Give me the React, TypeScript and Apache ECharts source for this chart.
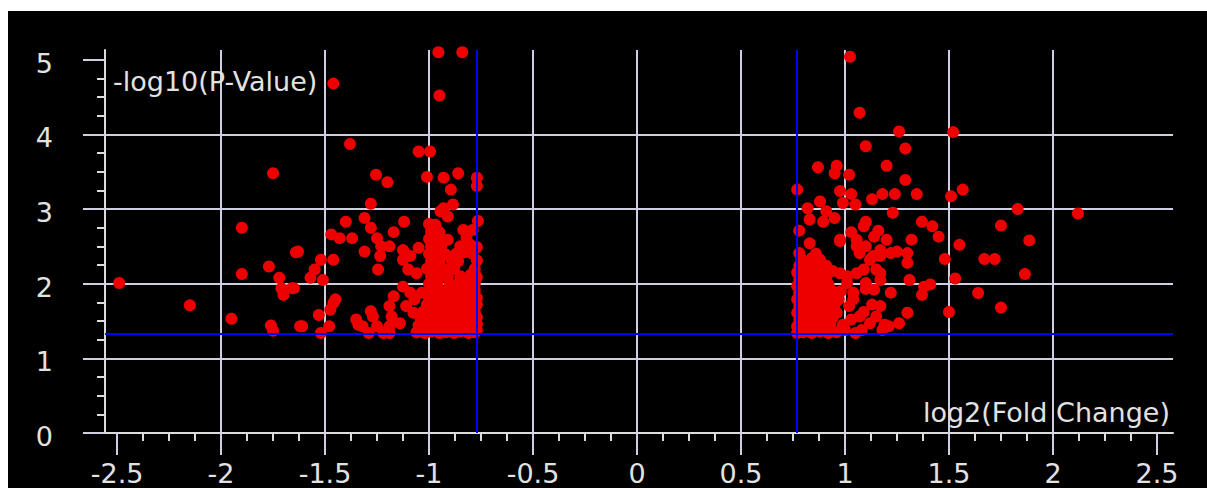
import React, { useEffect, useRef } from "react";
import * as echarts from "echarts";

// Axis layout values
const xTicks = [-2.5, -2, -1.5, -1, -0.5, 0, 0.5, 1, 1.5, 2, 2.5];
const yTicks = [0, 1, 2, 3, 4, 5];
const xRange = [-2.558, 2.577];
const yRange = [0, 5.13];

// Significance thresholds
const foldChangeCut = 0.766;
const pValueCut = 1.327;

// [log2(Fold Change), -log10(P-Value)]
const downRegulated: [number, number][] = [
  [-2.49, 2.01], [-2.15, 1.71], [-1.95, 1.53], [-1.9, 2.75], [-1.9, 2.13],
  [-1.75, 3.48], [-1.77, 2.23], [-1.64, 2.42], [-1.72, 2.08], [-1.71, 1.94],
  [-1.7, 1.85], [-1.66, 1.94], [-1.76, 1.44], [-1.75, 1.37], [-1.62, 1.43],
  [-1.46, 4.68], [-0.955, 5.1], [-0.84, 5.1], [-0.95, 4.52], [-1.38, 3.87],
  [-1.05, 3.77], [-0.995, 3.77], [-1.255, 3.46], [-1.2, 3.36], [-1.01, 3.43],
  [-0.93, 3.42], [-0.895, 3.26], [-0.86, 3.48], [-0.77, 3.42], [-0.77, 3.31],
  [-1.28, 3.07], [-0.93, 3.01], [-0.885, 3.06], [-0.91, 2.9], [-0.945, 2.97],
  [-1.4, 2.83], [-1.31, 2.88], [-1.28, 2.75], [-1.25, 2.61], [-1.23, 2.5],
  [-1.235, 2.37], [-1.245, 2.19], [-1.12, 2.83], [-1.17, 2.69], [-1.47, 2.66],
  [-1.43, 2.61], [-1.37, 2.61], [-1.63, 2.43], [-1.31, 2.43], [-1.19, 2.5],
  [-1.125, 2.45], [-1.09, 2.37], [-1.05, 2.48], [-1.52, 2.32], [-1.46, 2.32],
  [-1.55, 2.19], [-1.57, 2.08], [-1.51, 2.05], [-1.65, 1.94], [-1.46, 1.74],
  [-1.475, 1.65], [-1.53, 1.58], [-1.61, 1.43], [-1.48, 1.43], [-1.52, 1.34],
  [-1.35, 1.52], [-1.32, 1.43], [-1.28, 1.63], [-1.29, 1.34], [-1.17, 1.83],
  [-1.125, 1.96], [-0.835, 2.72], [-0.79, 2.72], [-0.765, 2.84], [-1.125, 2.32],
  [-1.1, 2.19], [-1.06, 2.14], [-1.45, 1.79], [-1.34, 1.45], [-1.25, 1.43],
  [-1.22, 1.34], [-1.27, 1.56], [-1.19, 1.43], [-1.19, 1.34], [-1.18, 1.56],
  [-1.19, 1.7], [-1.14, 1.47], [-1.11, 1.7], [-1.075, 1.61], [-1.07, 1.79],
  [-1.035, 1.88], [-1.09, 1.88],
  [-1.06, 1.35], [-1.02, 1.34], [-0.99, 1.36], [-0.95, 1.34], [-0.92, 1.35],
  [-0.88, 1.34], [-0.85, 1.36], [-0.81, 1.34], [-0.78, 1.35], [-0.77, 1.38],
  [-1.05, 1.44], [-1.01, 1.43], [-0.98, 1.45], [-0.94, 1.44], [-0.91, 1.42],
  [-0.87, 1.45], [-0.84, 1.43], [-0.8, 1.44], [-0.77, 1.46],
  [-1.04, 1.53], [-1.0, 1.52], [-0.96, 1.54], [-0.93, 1.53], [-0.89, 1.51],
  [-0.86, 1.54], [-0.82, 1.52], [-0.79, 1.53], [-0.77, 1.55],
  [-1.03, 1.62], [-0.99, 1.63], [-0.95, 1.61], [-0.92, 1.62], [-0.88, 1.64],
  [-0.85, 1.61], [-0.81, 1.63], [-0.78, 1.62],
  [-1.01, 1.72], [-0.97, 1.71], [-0.94, 1.73], [-0.9, 1.72], [-0.87, 1.7],
  [-0.83, 1.73], [-0.8, 1.71], [-0.77, 1.72],
  [-1.0, 1.81], [-0.96, 1.82], [-0.93, 1.8], [-0.89, 1.81], [-0.86, 1.83],
  [-0.82, 1.8], [-0.79, 1.82], [-0.77, 1.81],
  [-0.99, 1.9], [-0.95, 1.91], [-0.92, 1.89], [-0.88, 1.9], [-0.85, 1.92],
  [-0.81, 1.9], [-0.78, 1.91],
  [-1.0, 2.0], [-0.96, 2.01], [-0.9, 1.99], [-0.86, 2.0], [-0.82, 2.02], [-0.78, 2.0],
  [-0.99, 2.1], [-0.94, 2.11], [-0.91, 2.09], [-0.85, 2.1], [-0.8, 2.12], [-0.77, 2.09],
  [-1.01, 2.2], [-0.97, 2.21], [-0.92, 2.19], [-0.88, 2.2], [-0.78, 2.2],
  [-0.99, 2.3], [-0.95, 2.29], [-0.89, 2.31], [-0.86, 2.3], [-0.77, 2.31],
  [-1.0, 2.4], [-0.96, 2.41], [-0.92, 2.39], [-0.87, 2.4], [-0.83, 2.42], [-0.79, 2.4],
  [-0.99, 2.5], [-0.94, 2.51], [-0.85, 2.5], [-0.8, 2.52], [-0.77, 2.49],
  [-1.0, 2.6], [-0.96, 2.61], [-0.91, 2.59], [-0.82, 2.62],
  [-0.99, 2.7], [-0.95, 2.69], [-1.0, 2.8], [-0.97, 2.79],
];

const upRegulated: [number, number][] = [
  [1.024, 5.04], [1.07, 4.29], [1.26, 4.04], [1.52, 4.03], [1.1, 3.84],
  [1.29, 3.81], [0.87, 3.56], [0.96, 3.58], [0.95, 3.48], [1.02, 3.46],
  [1.2, 3.58], [1.29, 3.39], [0.77, 3.26], [0.976, 3.24], [1.03, 3.2],
  [0.99, 3.08], [1.05, 3.06], [1.13, 3.13], [1.18, 3.2], [1.24, 3.2],
  [1.345, 3.2], [1.566, 3.26], [1.51, 3.17], [0.88, 3.1], [0.82, 3.01],
  [0.91, 2.97], [0.95, 2.88], [1.23, 2.95], [0.83, 2.86], [0.895, 2.83],
  [0.78, 2.71], [1.1, 2.83], [1.09, 2.77], [1.37, 2.83], [1.42, 2.77],
  [1.45, 2.63], [1.03, 2.69], [0.976, 2.57], [1.16, 2.71], [1.2, 2.59],
  [0.83, 2.54], [1.32, 2.59], [1.83, 3.0], [2.12, 2.94], [1.75, 2.78],
  [1.886, 2.58], [1.55, 2.52], [1.48, 2.33], [1.67, 2.33], [1.72, 2.33],
  [1.865, 2.13], [1.53, 2.07], [1.64, 1.875], [1.75, 1.68], [1.5, 1.62],
  [1.41, 1.99], [1.056, 2.5], [1.136, 2.37], [1.17, 2.45], [1.3, 2.41],
  [1.3, 2.28], [1.31, 2.05], [1.09, 2.19], [1.15, 2.19], [1.17, 2.05],
  [1.38, 1.96], [1.37, 1.85], [1.22, 1.88], [1.17, 1.7], [1.3, 1.61],
  [1.26, 1.47], [1.21, 1.43], [1.12, 1.47], [1.07, 1.56], [1.02, 1.7],
  [0.96, 1.61], [1.01, 2.01], [1.04, 1.88], [1.1, 2.01], [0.976, 2.14],
  [1.19, 1.45], [1.14, 1.92], [1.0, 1.38], [1.05, 1.34], [1.056, 2.59],
  [1.1, 2.5], [1.07, 2.41], [1.12, 2.32], [1.17, 2.37], [1.22, 2.41],
  [1.25, 2.43], [1.14, 2.63], [1.17, 2.14], [1.056, 2.14], [1.01, 2.1],
  [0.976, 2.59], [0.99, 1.45], [1.03, 1.52], [1.09, 1.62], [1.13, 1.72],
  [1.04, 1.79], [0.98, 1.9], [1.1, 1.93], [1.15, 1.56], [1.18, 1.38],
  [1.08, 1.38],
  [0.77, 1.34], [0.8, 1.35], [0.84, 1.34], [0.88, 1.36], [0.92, 1.34], [0.96, 1.35],
  [0.77, 1.43], [0.81, 1.44], [0.85, 1.42], [0.89, 1.43], [0.93, 1.45],
  [0.78, 1.52], [0.82, 1.53], [0.86, 1.51], [0.9, 1.52], [0.94, 1.54],
  [0.77, 1.61], [0.8, 1.62], [0.84, 1.6], [0.88, 1.61], [0.92, 1.63],
  [0.78, 1.7], [0.82, 1.71], [0.86, 1.69], [0.9, 1.7], [0.95, 1.72],
  [0.77, 1.79], [0.81, 1.8], [0.85, 1.78], [0.89, 1.79], [0.93, 1.81], [0.97, 1.79],
  [0.78, 1.88], [0.82, 1.89], [0.86, 1.87], [0.9, 1.88], [0.94, 1.9],
  [0.77, 1.97], [0.8, 1.98], [0.84, 1.96], [0.88, 1.97], [0.92, 1.99],
  [0.78, 2.06], [0.82, 2.07], [0.86, 2.05], [0.91, 2.06],
  [0.77, 2.15], [0.81, 2.16], [0.85, 2.14], [0.89, 2.15], [0.94, 2.17],
  [0.78, 2.24], [0.82, 2.25], [0.87, 2.23], [0.91, 2.24],
  [0.79, 2.33], [0.84, 2.34], [0.88, 2.32], [0.78, 2.41], [0.86, 2.4],
];

const gridColor = "#cfcfe2";
const axisColor = "#dcdcdc";
const textColor = "#e2e2e2";
const dotColor = "#ee0000";
const font = "DejaVu Sans";

export default function App() {
  const ref = useRef<HTMLDivElement>(null);

  useEffect(() => {
    const chart = echarts.init(ref.current!, null, { renderer: "svg" });
    chart.setOption({
      animation: false,
      backgroundColor: "#000000",
      textStyle: { fontFamily: font },
      grid: { left: 97, top: 39, width: 1068, height: 383, containLabel: false, outerBoundsMode: "none" },
      xAxis: {
        type: "value",
        min: xRange[0],
        max: xRange[1],
        splitNumber: 10,
        name: "log2(Fold Change)",
        nameLocation: "end",
        nameGap: -3,
        nameTextStyle: {
          color: textColor,
          fontSize: 27,
          fontFamily: font,
          align: "right",
          verticalAlign: "bottom",
          lineHeight: 42,
        },
        axisLine: { show: true, onZero: false, lineStyle: { color: axisColor, width: 2 } },
        axisTick: { show: true, length: 22, customValues: xTicks, lineStyle: { color: gridColor, width: 2 } },
        minorTick: { show: true, splitNumber: 4, length: 8, lineStyle: { color: axisColor, width: 2 } },
        axisLabel: {
          customValues: xTicks,
          color: textColor,
          fontSize: 27,
          fontFamily: font,
          margin: 27,
          formatter: (v: number) => String(v),
        },
        splitLine: { show: true, showMinLine: false, showMaxLine: false, lineStyle: { color: gridColor, width: 2 } },
      },
      yAxis: {
        type: "value",
        min: yRange[0],
        max: yRange[1],
        splitNumber: 5,
        name: "-log10(P-Value)",
        nameLocation: "end",
        nameGap: -31,
        nameTextStyle: {
          color: textColor,
          fontSize: 27,
          fontFamily: font,
          align: "left",
          verticalAlign: "middle",
          padding: [0, 0, 0, 8],
        },
        axisLine: { show: true, onZero: false, lineStyle: { color: axisColor, width: 2 } },
        axisTick: { show: true, length: 22, customValues: yTicks, lineStyle: { color: gridColor, width: 2 } },
        minorTick: { show: true, splitNumber: 4, length: 8, lineStyle: { color: axisColor, width: 2 } },
        axisLabel: {
          customValues: yTicks,
          color: textColor,
          fontSize: 27,
          fontFamily: font,
          margin: 52,
          verticalAlign: "top",
          lineHeight: 7,
          formatter: (v: number) => String(v),
        },
        splitLine: { show: true, showMinLine: false, showMaxLine: false, lineStyle: { color: gridColor, width: 2 } },
      },
      series: [
        {
          name: "down",
          type: "scatter",
          data: downRegulated,
          symbol: "circle",
          symbolSize: 12,
          itemStyle: { color: dotColor, opacity: 1 },
          markLine: {
            silent: true,
            symbol: "none",
            label: { show: false },
            lineStyle: { color: "#0000ff", width: 2, type: "solid" },
            data: [{ xAxis: -foldChangeCut }, { xAxis: foldChangeCut }, { yAxis: pValueCut }],
          },
        },
        {
          name: "up",
          type: "scatter",
          data: upRegulated,
          symbol: "circle",
          symbolSize: 12,
          itemStyle: { color: dotColor, opacity: 1 },
        },
      ],
    });
    return () => chart.dispose();
  }, []);

  return (
    <div
      ref={ref}
      style={{ position: "fixed", left: 8, top: 11, width: 1199, height: 477 }}
    />
  );
}
